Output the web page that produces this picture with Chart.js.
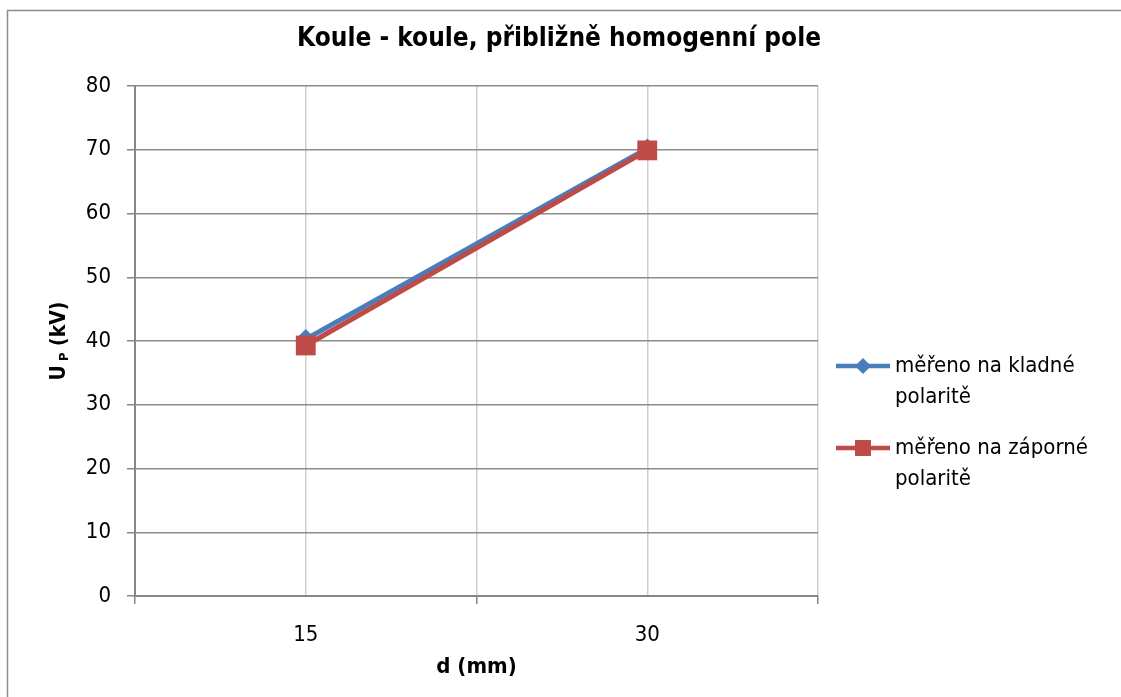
<!DOCTYPE html>
<html>
<head>
<meta charset="utf-8">
<script src="https://cdn.jsdelivr.net/npm/chart.js@4"></script>
<style>
  html, body { margin: 0; padding: 0; background: #fff; }
  #wrap { width: 1121px; height: 697px; }
</style>
</head>
<body>
<div id="wrap"><canvas id="c" width="1121" height="697"></canvas></div>
<script>
// data z grafu
const CATEGORIES = ['15', '30'];
const KLADNA = [40.3, 70.2];
const ZAPORNA = [39.3, 69.9];
const SERIES_NAMES = [['měřeno na kladné', 'polaritě'], ['měřeno na záporné', 'polaritě']];
const Y_TICKS = [0, 10, 20, 30, 40, 50, 60, 70, 80];
const TITLE = 'Koule - koule, přibližně homogenní pole';

const FONT = "'Liberation Sans Narrow', 'DejaVu Sans Condensed', sans-serif";
const BLUE = '#4A7EBB';
const RED = '#BE4B48';
const AXIS = '#868686';

// kategorie jsou na pozicich 1, 3 (osa 0..4 jako v Excelu)
const toPoints = arr => arr.map((v, i) => ({ x: i * 2 + 1, y: v }));

// ramecek, nadpis, nazev osy Y s indexem a legenda
const extras = {
    id: 'extras',
    afterDraw(chart) {
        const c = chart.ctx;
        c.save();
        c.strokeStyle = '#8c8c8c';
        c.lineWidth = 1.5;
        c.strokeRect(7.5, 10.5, 1130, 700);

        // nadpis pres celou sirku
        c.fillStyle = '#000';
        c.font = "bold 26px " + FONT;
        c.textAlign = 'center';
        c.textBaseline = 'middle';
        c.fillText(TITLE, 559, 39);
        c.textAlign = 'left';

        // U_P (kV)
        const area = chart.chartArea;
        const cy = (area.top + area.bottom) / 2;
        c.translate(60, cy);
        c.rotate(-Math.PI / 2);
        const fBig = "bold 21px " + FONT, fSmall = "bold 13px " + FONT;
        c.font = fBig;
        const wU = c.measureText('U').width;
        const wRest = c.measureText(' (kV)').width;
        c.font = fSmall;
        const wP = c.measureText(' P').width;
        let x = -(wU + wP + wRest) / 2;
        c.font = fBig;
        c.fillText('U', x, 0); x += wU;
        c.font = fSmall;
        c.fillText(' P', x, 5); x += wP;
        c.font = fBig;
        c.fillText(' (kV)', x, 0);
        c.restore();

        // legenda vpravo
        const items = [
            { y: 366, color: BLUE, style: 'diamond', text: SERIES_NAMES[0] },
            { y: 448, color: RED, style: 'square', text: SERIES_NAMES[1] }
        ];
        c.save();
        items.forEach(it => {
            c.strokeStyle = it.color;
            c.lineWidth = 4.5;
            c.beginPath();
            c.moveTo(836, it.y);
            c.lineTo(890, it.y);
            c.stroke();
            c.fillStyle = it.color;
            c.beginPath();
            if (it.style === 'diamond') {
                c.moveTo(863, it.y - 8);
                c.lineTo(871, it.y);
                c.lineTo(863, it.y + 8);
                c.lineTo(855, it.y);
                c.closePath();
            } else {
                c.rect(855, it.y - 8, 16, 16);
            }
            c.fill();
            c.fillStyle = '#000';
            c.font = "22px " + FONT;
            c.textBaseline = 'middle';
            c.fillText(it.text[0], 895, it.y);
            c.fillText(it.text[1], 895, it.y + 31);
        });
        c.restore();
    }
};

new Chart(document.getElementById('c'), {
    type: 'line',
    data: {
        datasets: [
            {
                label: SERIES_NAMES[0].join(' '),
                data: toPoints(KLADNA),
                borderColor: BLUE,
                backgroundColor: BLUE,
                borderWidth: 5,
                pointStyle: 'rectRot',
                pointRadius: 10,
                pointBorderWidth: 0,
                tension: 0,
                order: 1
            },
            {
                label: SERIES_NAMES[1].join(' '),
                data: toPoints(ZAPORNA),
                borderColor: RED,
                backgroundColor: RED,
                borderWidth: 5,
                pointStyle: 'rect',
                pointRadius: 14,
                pointBorderWidth: 0,
                tension: 0,
                order: 0
            }
        ]
    },
    options: {
        responsive: false,
        animation: false,
        layout: { padding: { left: 0, right: 303, top: 86, bottom: 0 } },
        plugins: {
            legend: { display: false },
            tooltip: { enabled: false },
            title: { display: false }
        },
        scales: {
            x: {
                type: 'linear',
                min: 0,
                max: CATEGORIES.length * 2,
                afterFit: s => { s.height = 101; },
                afterBuildTicks: s => {
                    s.ticks = [0, 1, 2, 3, 4].map(v => ({ value: v }));
                },
                ticks: {
                    autoSkip: false,
                    maxRotation: 0,
                    padding: 18,
                    color: '#000',
                    font: { family: FONT, size: 22 },
                    callback: v => (v % 2 === 1 ? CATEGORIES[(v - 1) / 2] : '')
                },
                grid: {
                    color: c => (c.tick && c.tick.value === 0 ? 'rgba(0,0,0,0)' : '#cfcfcf'),
                    lineWidth: 1.5,
                    tickLength: 8,
                    tickColor: c => (c.tick && c.tick.value % 2 === 0 ? AXIS : 'rgba(0,0,0,0)')
                },
                border: { color: AXIS, width: 2 },
                title: {
                    display: true,
                    text: 'd (mm)',
                    color: '#000',
                    font: { family: FONT, size: 22, weight: 'bold', lineHeight: 1.2 },
                    padding: { top: 0, bottom: 17 }
                }
            },
            y: {
                min: 0,
                max: 80,
                afterFit: s => { s.width = 135; },
                afterBuildTicks: s => { s.ticks = Y_TICKS.map(v => ({ value: v })); },
                ticks: {
                    padding: 16,
                    color: '#000',
                    font: { family: FONT, size: 22 }
                },
                grid: {
                    color: '#8c8c8c',
                    lineWidth: 1.5,
                    tickLength: 8,
                    tickColor: AXIS
                },
                border: { color: AXIS, width: 2 }
            }
        }
    },
    plugins: [extras]
});
</script>
</body>
</html>
